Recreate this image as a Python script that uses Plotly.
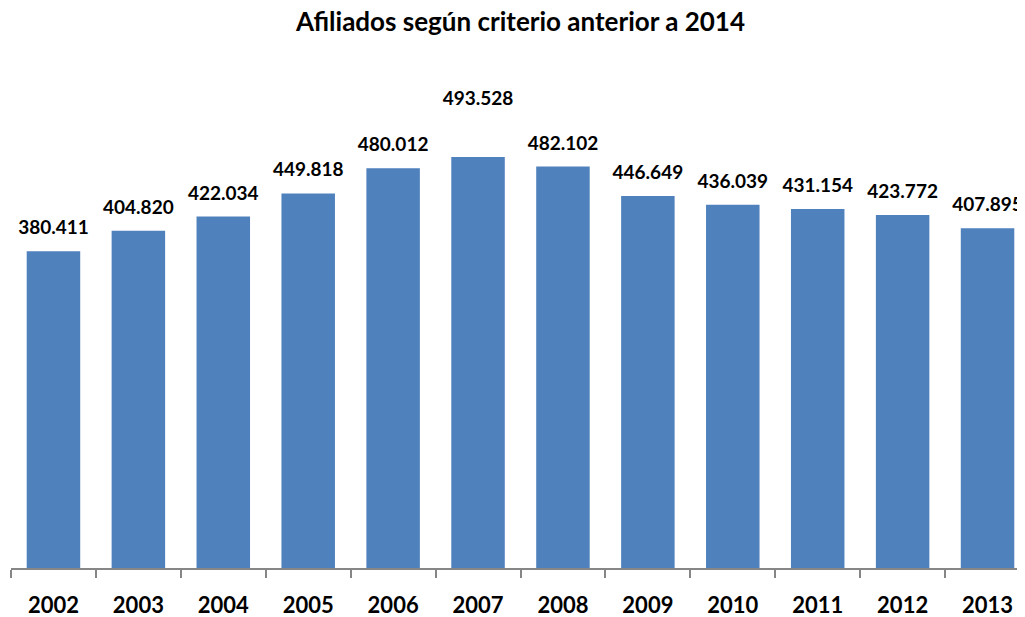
import plotly.graph_objects as go

years = ["2002", "2003", "2004", "2005", "2006", "2007", "2008", "2009", "2010", "2011", "2012", "2013"]
values = [380411, 404820, 422034, 449818, 480012, 493528, 482102, 446649, 436039, 431154, 423772, 407895]
labels = ["380.411", "404.820", "422.034", "449.818", "480.012", "493.528", "482.102", "446.649", "436.039", "431.154", "423.772", "407.895"]

# the 2007 label sits higher above its bar in the original
label_pad = [74 if yr == "2007" else 18 for yr in years]

fig = go.Figure()
fig.add_trace(go.Bar(x=years, y=values, marker=dict(color="#4F81BD", line=dict(width=0)), hoverinfo="skip"))
fig.add_trace(go.Scatter(x=years, y=values, mode="markers+text", text=labels, textposition="top center",
                         marker=dict(size=label_pad, opacity=0), cliponaxis=False, hoverinfo="skip",
                         textfont=dict(family="Lato", size=19, color="#000000", weight="bold")))

fig.update_layout(
    width=1025, height=617,
    margin=dict(l=3, r=3, t=52, b=57, autoexpand=False),
    plot_bgcolor="white", paper_bgcolor="white",
    bargap=0.37,
    showlegend=False,
    title=dict(text="<b>Afiliados según criterio anterior a 2014</b>", x=0.5, xanchor="center",
               y=0.977, yanchor="middle", font=dict(family="Lato", size=26, color="#000000")),
    xaxis=dict(type="category", range=[-0.5, len(years) - 0.5], showline=True, linecolor="#868686",
               linewidth=1.5, ticks="outside", tickson="boundaries", ticklen=8, tickcolor="#868686",
               tickwidth=1.5, ticklabelstandoff=17,
               tickfont=dict(family="Lato", size=22, color="#000000", weight="bold"), showgrid=False),
    yaxis=dict(range=[0, 610000], visible=False, showgrid=False),
)

fig.write_html("out.html")
